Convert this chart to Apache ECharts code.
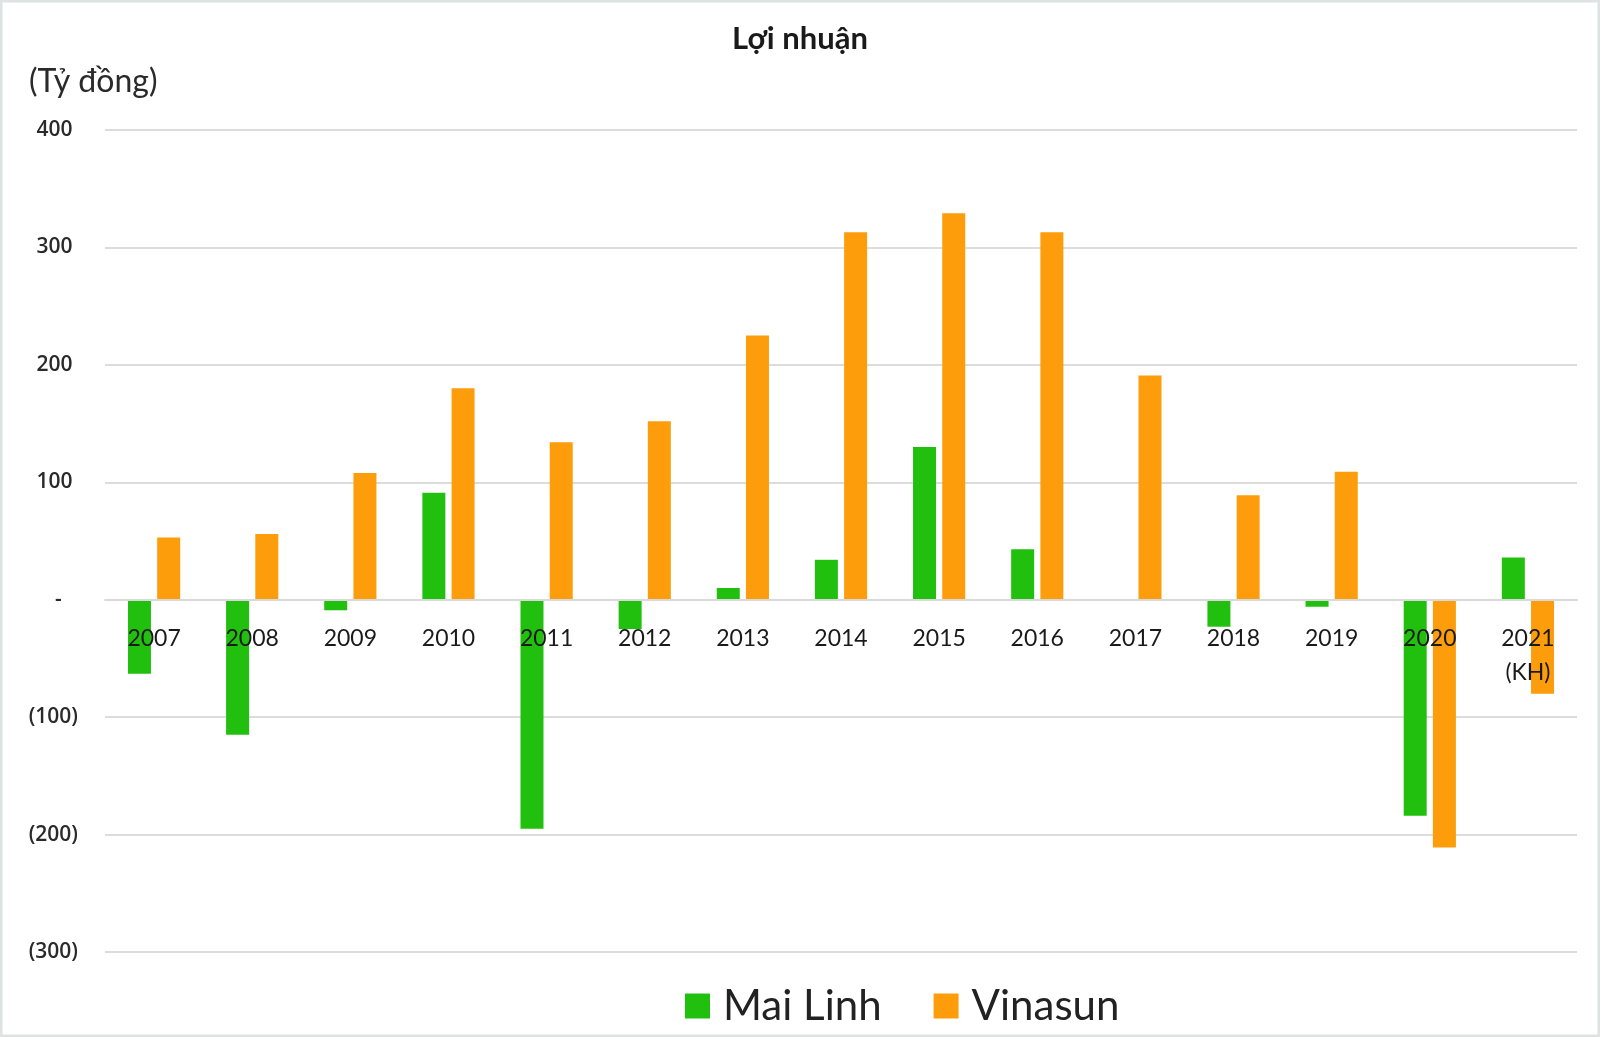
<!DOCTYPE html>
<html>
<head>
<meta charset="utf-8">
<title>Lợi nhuận</title>
<script src="https://cdn.jsdelivr.net/npm/echarts@6/dist/echarts.min.js"></script>
<style>
  html, body { margin: 0; padding: 0; background: #fff; }
  #chart { width: 1600px; height: 1037px; }
</style>
</head>
<body>
<div id="chart"></div>
<script>
// categories (years), 2021 is the plan (KH)
var years = ['2007', '2008', '2009', '2010', '2011', '2012', '2013', '2014',
  '2015', '2016', '2017', '2018', '2019', '2020', '2021\n(KH)']
// profit, billion VND
var maiLinh = [-63, -115, -9, 91, -195, -25, 10, 34, 130, 43, 0, -23, -6, -184, 36]
var vinasun = [53, 56, 108, 180, 134, 152, 225, 313, 329, 313, 191, 89, 109, -211, -80]
var yTicks = { min: -300, max: 400, step: 100 }

function fmtY (v) {
  if (v === 0) return '-   '
  if (v < 0) return '(' + Math.abs(v) + ')'
  return v + ' '
}

var gridTop = 130
var gridBottom = 85
var plotH = 1037 - gridTop - gridBottom
// move the category axis (and its labels) up to the zero line
var zeroOffset = plotH * (0 - yTicks.min) / (yTicks.max - yTicks.min)

var chart = echarts.init(document.getElementById('chart'))
chart.setOption({
  backgroundColor: '#ffffff',
  animation: false,
  title: [
    {
      text: 'Lợi nhuận',
      left: 'center',
      top: 18,
      textStyle: { fontFamily: 'Lato', fontSize: 31, fontWeight: 'bold', color: '#1a1a1a' }
    },
    {
      text: '(Tỷ đồng)',
      left: 24,
      top: 61,
      textStyle: { fontFamily: 'Lato', fontSize: 32, fontWeight: 'normal', color: '#2a2a2a' }
    }
  ],
  graphic: [
    {
      type: 'rect',
      shape: { x: 1, y: 1, width: 1598, height: 1035 },
      style: { fill: 'none', stroke: '#dde2e2', lineWidth: 3 },
      silent: true
    }
  ],
  legend: {
    data: ['Mai Linh', 'Vinasun'],
    left: 680,
    top: 980,
    icon: 'rect',
    itemWidth: 25,
    itemHeight: 25,
    itemGap: 52,
    textStyle: { fontFamily: 'Lato', fontSize: 42, color: '#222', padding: [0, 0, 0, 8] }
  },
  grid: {
    left: 105,
    right: 23,
    top: gridTop,
    bottom: gridBottom
  },
  xAxis: {
    type: 'category',
    data: years,
    z: 3,
    position: 'bottom',
    offset: -zeroOffset,
    axisLine: { onZero: false, lineStyle: { color: '#d9d9d9', width: 2 } },
    axisTick: { show: false },
    axisLabel: {
      margin: 22,
      fontFamily: 'Lato',
      fontSize: 23,
      lineHeight: 34,
      color: '#1a1a1a'
    }
  },
  yAxis: {
    type: 'value',
    min: yTicks.min,
    max: yTicks.max,
    interval: yTicks.step,
    axisLine: { show: false },
    axisTick: { show: false },
    splitLine: { lineStyle: { color: '#dcdcdc', width: 2 } },
    axisLabel: {
      margin: 27,
      formatter: fmtY,
      fontFamily: 'Open Sans',
      fontSize: 21,
      fontWeight: 600,
      color: '#2a2a2a'
    }
  },
  series: [
    {
      name: 'Mai Linh',
      type: 'bar',
      data: maiLinh,
      barWidth: 23,
      barGap: '27%',
      itemStyle: { color: '#22c00e' }
    },
    {
      name: 'Vinasun',
      type: 'bar',
      data: vinasun,
      barWidth: 23,
      itemStyle: { color: '#fd9d0b' }
    }
  ]
})
</script>
</body>
</html>
